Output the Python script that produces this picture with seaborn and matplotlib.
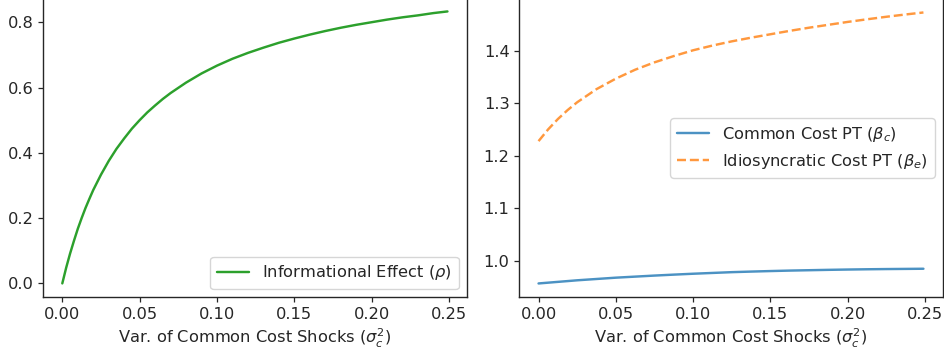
import matplotlib
matplotlib.use("Agg")
import matplotlib.pyplot as plt
import seaborn as sns
import pandas as pd

# Variance of common cost shocks and the informational effect rho
sigma_rho = [0.0, 0.0025, 0.005, 0.0075, 0.01, 0.0125, 0.015, 0.0175, 0.02,
             0.025, 0.03, 0.035, 0.04, 0.045, 0.05, 0.055, 0.06, 0.065, 0.07,
             0.08, 0.09, 0.10, 0.11, 0.12, 0.13, 0.14, 0.15, 0.16, 0.17,
             0.18, 0.19, 0.20, 0.21, 0.22, 0.23, 0.24, 0.249]
rho = [0.0, 0.048, 0.091, 0.130, 0.167, 0.200, 0.231, 0.259, 0.286,
       0.333, 0.375, 0.412, 0.444, 0.474, 0.500, 0.524, 0.545, 0.565, 0.583,
       0.615, 0.643, 0.667, 0.688, 0.706, 0.722, 0.737, 0.750, 0.762, 0.773,
       0.783, 0.792, 0.800, 0.808, 0.815, 0.821, 0.828, 0.833]

# Pass-through of common and idiosyncratic cost shocks
sigma_pt = [0.0, 0.00625, 0.0125, 0.01875, 0.025, 0.0375, 0.05, 0.0625,
            0.075, 0.0875, 0.1, 0.1125, 0.125, 0.1375, 0.15, 0.1625, 0.175,
            0.1875, 0.2, 0.2125, 0.225, 0.2375, 0.249]
beta_c = [0.957, 0.9585, 0.960, 0.9615, 0.963, 0.9655, 0.968, 0.970,
          0.972, 0.9738, 0.9755, 0.977, 0.9785, 0.9796, 0.9806, 0.9815, 0.9822,
          0.9829, 0.9835, 0.984, 0.9844, 0.9847, 0.985]
beta_e = [1.228, 1.2505, 1.270, 1.287, 1.302, 1.327, 1.347, 1.364,
          1.378, 1.390, 1.401, 1.410, 1.418, 1.425, 1.4315, 1.438, 1.444,
          1.4495, 1.455, 1.460, 1.4648, 1.4692, 1.473]

x_ticks = [0.00, 0.05, 0.10, 0.15, 0.20, 0.25]
x_label = r"Var. of Common Cost Shocks ($\sigma_c^2$)"

sns.set_style("ticks")
fs = 11.7
plt.rcParams.update({
    "font.family": ["DejaVu Sans"],
    "font.size": fs,
    "axes.labelsize": fs,
    "xtick.labelsize": fs,
    "ytick.labelsize": fs,
    "legend.fontsize": fs,
    "xtick.major.size": 3.5,
    "ytick.major.size": 3.5,
    "axes.linewidth": 1.0,
    "xtick.major.width": 0.9,
    "ytick.major.width": 0.9,
})

df_rho = pd.DataFrame({"sigma": sigma_rho, "rho": rho})
df_pt = pd.DataFrame({"sigma": sigma_pt, "beta_c": beta_c, "beta_e": beta_e})

fig = plt.figure(figsize=(9.44, 3.6), dpi=100)
ax1 = fig.add_axes([0.0456, 0.175, 0.4488, 0.831])
ax2 = fig.add_axes([0.5501, 0.175, 0.4485, 0.828])

lw = 1.75
sns.lineplot(data=df_rho, x="sigma", y="rho", ax=ax1, color="#2ca02c",
             linewidth=lw, label=r"Informational Effect ($\rho$)")
ax1.set_xticks(x_ticks)
ax1.set_xlabel(x_label)
ax1.set_ylabel("")
ax1.set_yticks([0.0, 0.2, 0.4, 0.6, 0.8])
ax1.legend(loc="lower right")

sns.lineplot(data=df_pt, x="sigma", y="beta_c", ax=ax2, color="#1f77b4",
             alpha=0.8, linewidth=lw, label=r"Common Cost PT ($\beta_c$)")
sns.lineplot(data=df_pt, x="sigma", y="beta_e", ax=ax2, color="#ff7f0e",
             alpha=0.8, linewidth=lw, linestyle="--",
             label=r"Idiosyncratic Cost PT ($\beta_e$)")
ax2.set_xticks(x_ticks)
ax2.set_xlabel(x_label)
ax2.set_ylabel("")
ax2.set_yticks([1.0, 1.1, 1.2, 1.3, 1.4])
ax2.legend(loc="center right")

for ax in (ax1, ax2):
    ax.margins(x=0.05, y=0.05)

fig.savefig("out.png", dpi=100)
